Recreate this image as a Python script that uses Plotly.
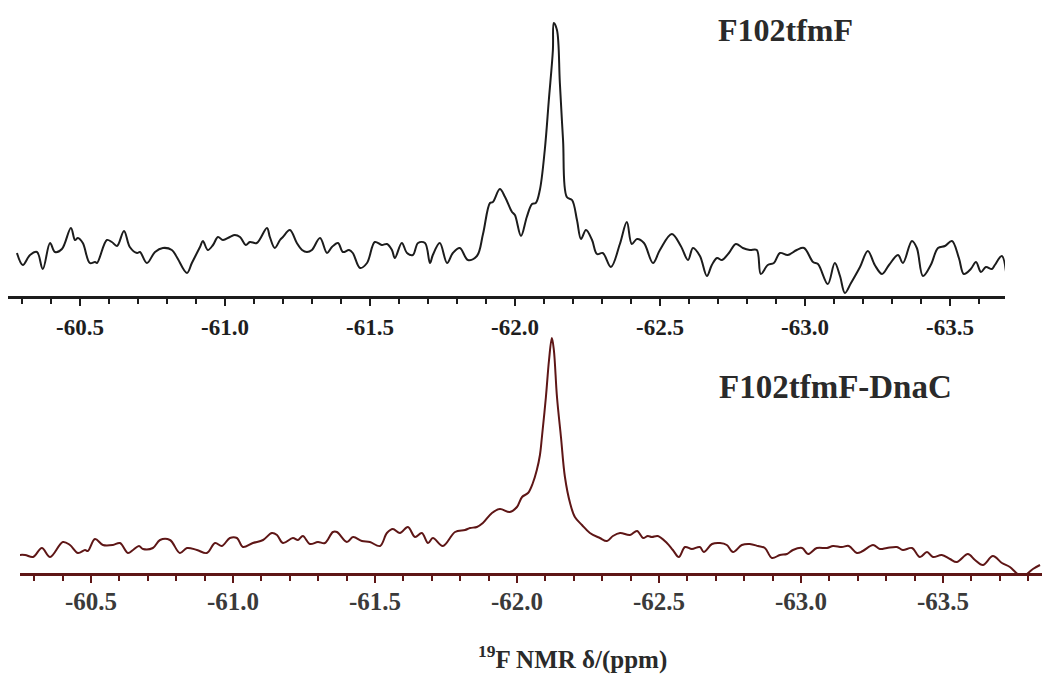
import plotly.graph_objects as go

# ---- data (ppm, intensity in arbitrary units) ----
top_ppm = [-60.283, -60.303, -60.328, -60.352, -60.372, -60.397, -60.414, -60.438, -60.469, -60.483,
           -60.493, -60.510, -60.534, -60.552, -60.559, -60.593, -60.610, -60.628, -60.652, -60.672,
           -60.697, -60.707, -60.731, -60.759, -60.786, -60.817, -60.834, -60.869, -60.886, -60.914,
           -60.924, -60.941, -60.959, -60.976, -60.993, -61.017, -61.034, -61.052, -61.072, -61.086,
           -61.110, -61.145, -61.155, -61.172, -61.190, -61.200, -61.224, -61.248, -61.266, -61.283,
           -61.300, -61.328, -61.352, -61.369, -61.390, -61.407, -61.428, -61.441, -61.466, -61.490,
           -61.517, -61.541, -61.559, -61.576, -61.586, -61.610, -61.628, -61.648, -61.666, -61.690,
           -61.707, -61.717, -61.741, -61.766, -61.786, -61.810, -61.838, -61.869, -61.890, -61.914,
           -61.924, -61.948, -61.966, -61.990, -62.000, -62.021, -62.041, -62.059, -62.072, -62.086,
           -62.103, -62.117, -62.131, -62.134, -62.145, -62.155, -62.166, -62.179, -62.197, -62.214,
           -62.228, -62.245, -62.266, -62.283, -62.303, -62.331, -62.362, -62.386, -62.403, -62.421,
           -62.445, -62.476, -62.500, -62.541, -62.572, -62.597, -62.614, -62.638, -62.662, -62.679,
           -62.697, -62.714, -62.738, -62.762, -62.786, -62.810, -62.834, -62.848, -62.872, -62.893,
           -62.914, -62.941, -62.972, -62.997, -63.028, -63.045, -63.079, -63.103, -63.121, -63.138,
           -63.159, -63.190, -63.217, -63.241, -63.266, -63.290, -63.321, -63.338, -63.369, -63.386,
           -63.407, -63.434, -63.459, -63.483, -63.507, -63.531, -63.548, -63.572, -63.590, -63.607,
           -63.624, -63.645, -63.655, -63.679, -63.697]
top_int = [41, 29, 39, 42, 25, 51, 42, 45, 66, 54,
           56, 51, 31, 32, 31, 54, 52, 48, 63, 47,
           41, 42, 31, 42, 46, 44, 37, 21, 31, 47,
           53, 44, 49, 57, 54, 57, 59, 57, 49, 52,
           51, 66, 57, 46, 54, 57, 64, 51, 44, 42,
           44, 56, 41, 47, 51, 42, 44, 41, 26, 31,
           52, 49, 50, 44, 36, 51, 41, 39, 51, 51,
           31, 39, 51, 31, 41, 46, 34, 38, 60, 91,
           92, 105, 97, 82, 79, 58, 77, 90, 91, 104,
           144, 194, 244, 271, 264, 211, 154, 97, 94, 74,
           55, 64, 54, 40, 41, 27, 50, 72, 50, 55,
           51, 31, 44, 60, 48, 34, 46, 38, 18, 29,
           36, 34, 41, 50, 46, 44, 44, 20, 29, 31,
           41, 39, 44, 46, 32, 30, 10, 31, 18, 1,
           11, 27, 43, 29, 20, 29, 39, 31, 53, 46,
           18, 29, 46, 48, 53, 36, 20, 25, 32, 22,
           27, 25, 29, 38, 13]

bot_ppm = [-60.243, -60.268, -60.296, -60.327, -60.356, -60.401, -60.426, -60.454, -60.479, -60.489,
           -60.514, -60.542, -60.577, -60.602, -60.630, -60.648, -60.669, -60.683, -60.718, -60.743,
           -60.778, -60.813, -60.838, -60.873, -60.908, -60.937, -60.961, -60.989, -61.014, -61.035,
           -61.070, -61.106, -61.137, -61.155, -61.176, -61.211, -61.229, -61.246, -61.271, -61.299,
           -61.324, -61.352, -61.366, -61.401, -61.423, -61.454, -61.482, -61.518, -61.542, -61.563,
           -61.588, -61.616, -61.641, -61.665, -61.687, -61.704, -61.739, -61.782, -61.817, -61.835,
           -61.859, -61.880, -61.912, -61.940, -61.975, -62.000, -62.018, -62.039, -62.056, -62.070,
           -62.081, -62.088, -62.102, -62.113, -62.123, -62.130, -62.141, -62.155, -62.169, -62.187,
           -62.204, -62.229, -62.257, -62.292, -62.317, -62.338, -62.363, -62.398, -62.423, -62.444,
           -62.461, -62.475, -62.496, -62.528, -62.549, -62.570, -62.592, -62.616, -62.644, -62.658,
           -62.687, -62.715, -62.739, -62.761, -62.792, -62.820, -62.849, -62.873, -62.898, -62.926,
           -62.951, -62.972, -63.004, -63.025, -63.056, -63.092, -63.113, -63.144, -63.169, -63.197,
           -63.218, -63.254, -63.278, -63.303, -63.338, -63.359, -63.391, -63.419, -63.444, -63.465,
           -63.496, -63.525, -63.549, -63.588, -63.613, -63.641, -63.676, -63.708, -63.736, -63.764,
           -63.789, -63.817, -63.842]
bot_int = [17, 17, 15, 24, 15, 30, 27, 19, 22, 21,
           33, 27, 27, 29, 19, 22, 26, 23, 24, 32,
           32, 19, 24, 22, 19, 29, 26, 34, 34, 25,
           29, 32, 39, 37, 29, 34, 32, 36, 28, 30,
           29, 40, 40, 30, 35, 31, 30, 26, 39, 43,
           39, 45, 35, 39, 29, 34, 26, 40, 42, 44,
           45, 49, 59, 63, 60, 65, 75, 79, 89, 102,
           117, 135, 175, 212, 234, 222, 175, 135, 95, 69,
           55, 47, 39, 34, 31, 36, 39, 37, 41, 34,
           36, 35, 36, 29, 22, 15, 25, 23, 25, 20,
           28, 29, 27, 20, 27, 28, 26, 24, 14, 17,
           18, 22, 24, 18, 24, 24, 26, 25, 26, 19,
           21, 27, 23, 24, 25, 22, 24, 15, 20, 15,
           17, 13, 10, 18, 12, 7, 16, 9, 5, -2,
           -3, 3, 7]

tick_vals = [-60.5, -61.0, -61.5, -62.0, -62.5, -63.0, -63.5]
tick_text = ["-60.5", "-61.0", "-61.5", "-62.0", "-62.5", "-63.0", "-63.5"]

label_top = "F102tfmF"
label_bot = "F102tfmF-DnaC"
x_title = "<sup>19</sup>F NMR δ/(ppm)"

# ---- styling ----
TOP_COL = "#1c1c1c"
BOT_COL = "#5e1616"
SERIF = "Liberation Serif"
W, H = 1042, 677

fig = go.Figure()
fig.add_trace(go.Scatter(x=top_ppm, y=top_int, mode="lines", xaxis="x", yaxis="y",
                         line=dict(color=TOP_COL, width=2, shape="spline", smoothing=1.0),
                         showlegend=False, hoverinfo="skip"))
fig.add_trace(go.Scatter(x=bot_ppm, y=bot_int, mode="lines", xaxis="x2", yaxis="y2",
                         line=dict(color=BOT_COL, width=2, shape="spline", smoothing=1.0),
                         showlegend=False, hoverinfo="skip"))


def xaxis_style(col):
    return dict(
        tickmode="array", tickvals=tick_vals, showticklabels=False,
        ticks="outside", ticklen=7, tickwidth=2, tickcolor=col,
        showline=True, linecolor=col, linewidth=2.5,
        showgrid=False, zeroline=False,
        minor=dict(tickmode="linear", tick0=-60.0, dtick=0.1, ticks="outside",
                   ticklen=5, tickwidth=1.5, tickcolor=col, showgrid=False),
    )


annotations = [
    dict(text="<b>" + label_top + "</b>", xref="paper", yref="paper",
         x=785 / W, y=1 - 30 / H, xanchor="center", yanchor="middle", showarrow=False,
         font=dict(family=SERIF, size=32, color="#2a2a2a")),
    dict(text="<b>" + label_bot + "</b>", xref="paper", yref="paper",
         x=835 / W, y=1 - 387 / H, xanchor="center", yanchor="middle", showarrow=False,
         font=dict(family=SERIF, size=33, color="#2a2a2a")),
    dict(text="<b>" + x_title + "</b>", xref="paper", yref="paper",
         x=572 / W, y=1 - 657 / H, xanchor="center", yanchor="middle", showarrow=False,
         font=dict(family=SERIF, size=25, color="#2a2a2a")),
]
# tick labels (real text, placed at the tick values of each axis)
for v, t in zip(tick_vals, tick_text):
    annotations.append(dict(text="<b>" + t + "</b>", xref="x", yref="paper", x=v, y=1 - 327 / H,
                            xanchor="center", yanchor="middle", showarrow=False,
                            font=dict(family=SERIF, size=23, color="#1e1e1e")))
    annotations.append(dict(text="<b>" + t + "</b>", xref="x2", yref="paper", x=v, y=1 - 601 / H,
                            xanchor="center", yanchor="middle", showarrow=False,
                            font=dict(family=SERIF, size=25, color="#3a3a3a")))

fig.update_layout(
    width=W, height=H, autosize=False,
    margin=dict(l=0, r=0, t=0, b=0),
    paper_bgcolor="white", plot_bgcolor="rgba(0,0,0,0)",
    font=dict(family=SERIF),
    xaxis=dict(domain=[8 / W, 1005 / W], range=[-60.252, -63.690], anchor="y", **xaxis_style(TOP_COL)),
    yaxis=dict(domain=[(H - 296) / H, (H - 10) / H], range=[-2, 284], visible=False),
    xaxis2=dict(domain=[20 / W, 1.0], range=[-60.250, -63.849], anchor="y2", **xaxis_style(BOT_COL)),
    yaxis2=dict(domain=[(H - 573) / H, (H - 330) / H], range=[-1, 242], visible=False),
    annotations=annotations,
)

fig.write_html("out.html")
